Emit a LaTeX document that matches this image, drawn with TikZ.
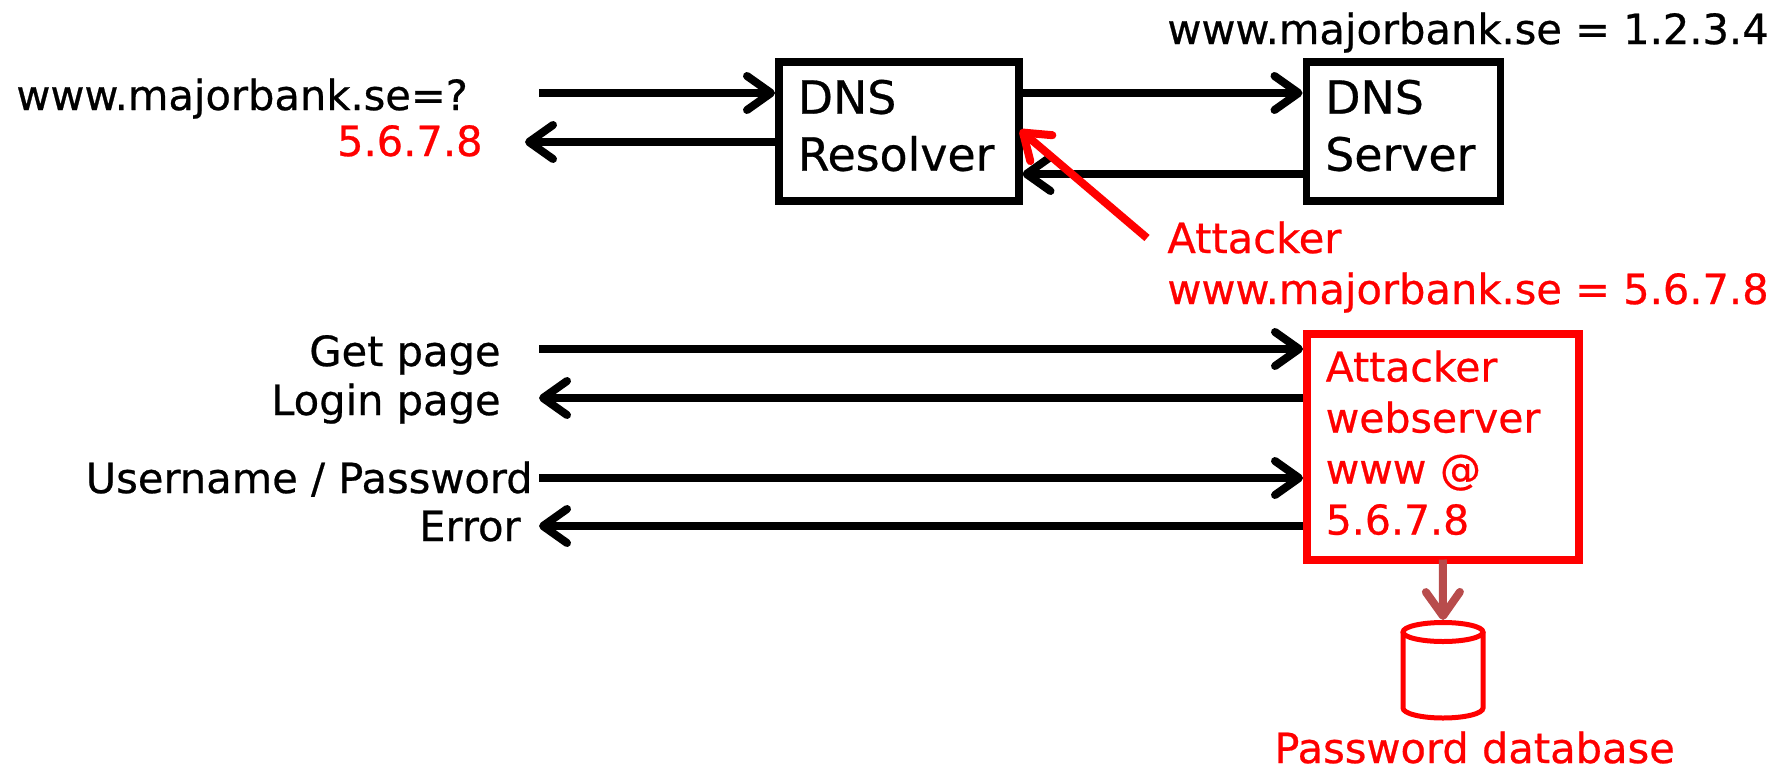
\documentclass[tikz,border=0pt]{standalone}
\usepackage{fontspec}
\setsansfont[RawFeature={embolden=0.6}]{DejaVu Sans}
\usetikzlibrary{
  positioning,
  arrows.meta}
\definecolor{attackcolor}{RGB}{255,0,0}
\definecolor{storecolor}{RGB}{184,76,76}
\tikzset{
  database/.pic = {
    \coordinate (-t) at (0, -50);
    \draw [attackcolor, line width=2.5pt] (0, -38) ellipse [x radius=20pt, y radius=4.75pt];
    \draw [attackcolor, line width=2.5pt] (-40, -38) -- (-40, 38)
      arc [start angle=180, end angle=360, x radius=20pt, y radius=5pt] -- (40, -38);
  }
}
\tikzset{
  %% label : plain text next to an arrow
  label/.style={
    font=\fontsize{20.8}{25.5}\selectfont,
    inner sep=0pt,
    anchor=base west
  },
  %% rightlabel : text that ends at the given point
  rightlabel/.style={
    label,
    anchor=base east
  },
  %% hostbox : a machine taking part in the lookup
  hostbox/.style={
    rectangle,
    draw=black,
    line width=3.75pt,
    align=left,
    inner ysep=0pt,
    inner xsep=9.5pt,
    minimum height=69.5pt,
    font=\fontsize{22.9}{28.5}\selectfont
  },
  %% flow : a message between two machines
  flow/.style={
    line width=4pt,
    -{Straight Barb[length=12pt,width=17pt,round]}
  }
}

\begin{document}
\begin{tikzpicture}
  [x=0.5pt,
  y=-0.5pt]
  \sffamily

  \useasboundingbox (0, 0) rectangle (1787, 771);

  %% Lookup
  \node (resolver) [hostbox, text width=101pt, anchor=north west] at (775, 58) {%
    DNS \\
    Resolver\par\vspace{5.7pt}\hrule height 0pt
  };
  \node (server) [right=140pt of resolver, hostbox, text width=78pt] {%
    DNS \\
    Server\par\vspace{5.7pt}\hrule height 0pt
  };

  \node (question) [label] at (16, 110) {www.majorbank.se=?};
  \node (forged) [rightlabel, attackcolor] at (483, 156) {5.6.7.8};
  \node (answer) [label] at (1167, 44) {www.majorbank.se = 1.2.3.4};
  \node (attacker) [label, attackcolor] at (1167, 253) {Attacker};
  \node (attacker record) [label, attackcolor] at (1167, 304) {www.majorbank.se = 5.6.7.8};

  \coordinate (query start) at (539, 93);
  \coordinate (reply end) at (525, 142);
  \coordinate (back level) at (1200, 174);

  \draw [flow] (query start) -- (query start -| resolver.west);
  \draw [flow] (resolver.west |- reply end) -- (reply end);
  \draw [flow] (resolver.east |- query start) -- (server.west |- query start);
  \draw [flow] (server.west |- back level) -- (resolver.east |- back level);

  %% Forged answer
  \coordinate (forge start) at (1147, 238);
  \coordinate (forge end) at (1020, 130);
  \draw [flow, attackcolor] (forge start) -- (forge end);

  %% Fake website
  \node (web) [hostbox, draw=attackcolor, text=attackcolor, text width=117pt,
    minimum height=113pt, font=\fontsize{20.5}{25.5}\selectfont,
    anchor=north west] at (1303, 330) {%
    Attacker \\
    webserver \\
    www @ \\
    5.6.7.8\par\vspace{4pt}\hrule height 0pt
  };

  \node (get) [rightlabel] at (501, 366) {Get page};
  \node (login) [rightlabel] at (501, 415) {Login page};
  \node (creds) [rightlabel] at (533, 493) {Username / Password};
  \node (error) [rightlabel] at (521, 541) {Error};

  \coordinate (get start) at (539, 349);
  \coordinate (login end) at (539, 398);
  \coordinate (creds start) at (539, 478);
  \coordinate (error end) at (539, 526);

  \draw [flow] (get start) -- (get start -| web.west);
  \draw [flow] (web.west |- login end) -- (login end);
  \draw [flow] (creds start) -- (creds start -| web.west);
  \draw [flow] (web.west |- error end) -- (error end);

  %% Stolen passwords
  \pic (store) at (1443, 670) {database};
  \draw [flow, storecolor, shorten <=-2pt] (web.south) -- (store-t);
  \node (store label) [label, attackcolor] at (1274, 763) {Password database};

\end{tikzpicture}
\end{document}
